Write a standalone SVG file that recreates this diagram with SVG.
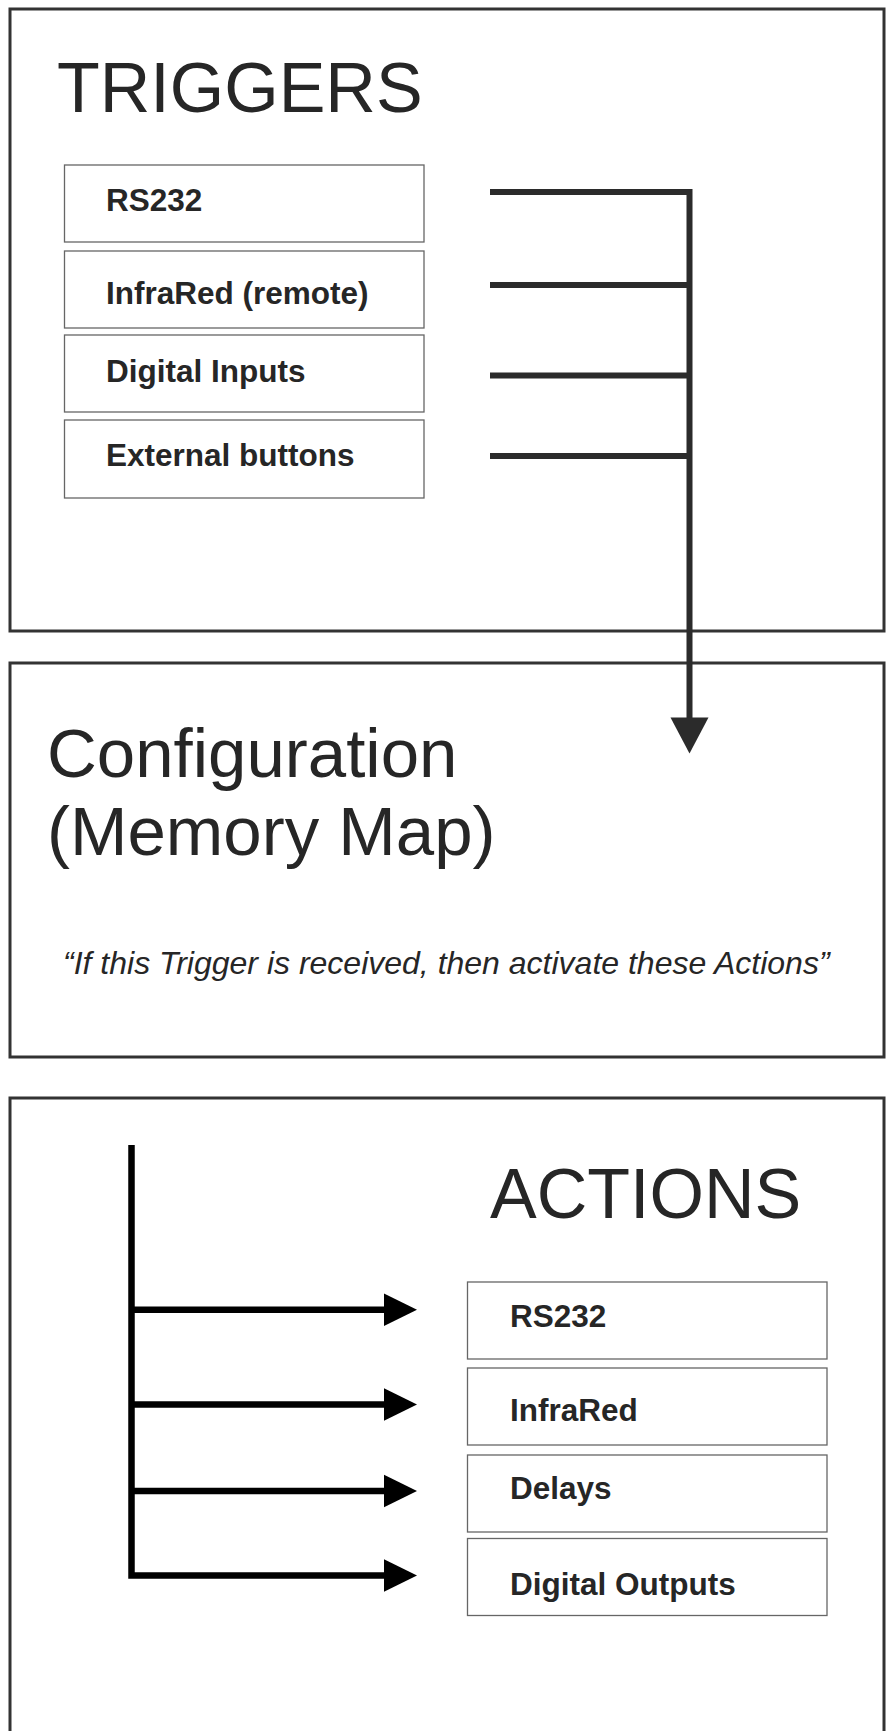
<svg xmlns="http://www.w3.org/2000/svg" width="889" height="1731" viewBox="0 0 889 1731">
<style>
.panel{fill:#fff;stroke:#333;stroke-width:3}
.item{fill:#fff;stroke:#666;stroke-width:1.3}
.title{font-family:"Liberation Sans",Arial,sans-serif;fill:#262626}
.lbl{font-family:"Liberation Sans",Arial,sans-serif;font-weight:bold;font-size:31.5px;fill:#262626}
.quote{font-family:"Liberation Sans",Arial,sans-serif;font-style:italic;font-size:32px;fill:#262626}
.conn{fill:none;stroke:#2b2b2b;stroke-width:6;stroke-linejoin:miter;stroke-linecap:butt}
.conn2{fill:none;stroke:#000;stroke-width:6.5;stroke-linejoin:miter;stroke-linecap:butt}
</style>
<rect width="889" height="1731" fill="#fff"/>
<g id="triggers">
<rect class="panel" x="10" y="9" width="874" height="622"/>
<text class="title" x="57" y="112" font-size="70">TRIGGERS</text>
</g>
<g id="trig-rs232"><rect class="item" x="64.5" y="165" width="359.5" height="77"/><text class="lbl" x="106" y="211">RS232</text></g>
<g id="trig-infrared"><rect class="item" x="64.5" y="251" width="359.5" height="77"/><text class="lbl" x="106" y="304">InfraRed (remote)</text></g>
<g id="trig-digital"><rect class="item" x="64.5" y="335" width="359.5" height="77"/><text class="lbl" x="106" y="382">Digital Inputs</text></g>
<g id="trig-external"><rect class="item" x="64.5" y="420" width="359.5" height="78"/><text class="lbl" x="106" y="466">External buttons</text></g>
<g id="config">
<rect class="panel" x="10" y="663" width="874" height="394"/>
<text class="title" x="47" y="777" font-size="69">Configuration</text>
<text class="title" x="47" y="855" font-size="69">(Memory Map)</text>
<text class="quote" x="63" y="973.5">“If this Trigger is received, then activate these Actions”</text>
</g>
<g id="actions">
<rect class="panel" x="10" y="1098" width="874" height="660"/>
<text class="title" x="490" y="1218" font-size="70">ACTIONS</text>
</g>
<g id="act-rs232"><rect class="item" x="467.5" y="1282" width="359.5" height="77"/><text class="lbl" x="510" y="1327">RS232</text></g>
<g id="act-infrared"><rect class="item" x="467.5" y="1368" width="359.5" height="77"/><text class="lbl" x="510" y="1421">InfraRed</text></g>
<g id="act-delays"><rect class="item" x="467.5" y="1455" width="359.5" height="77"/><text class="lbl" x="510" y="1499">Delays</text></g>
<g id="act-digital"><rect class="item" x="467.5" y="1538.5" width="359.5" height="77"/><text class="lbl" x="510" y="1595">Digital Outputs</text></g>
<g id="connectors">
<path class="conn" d="M490,192 H689.5 V720"/>
<path class="conn" d="M490,285 H689.5 M490,375.5 H689.5 M490,456 H689.5"/>
<polygon points="670.5,717.5 708.5,717.5 689.5,753.5" fill="#2b2b2b"/>
<path class="conn2" d="M131.5,1145 V1575.5 H386"/>
<path class="conn2" d="M131.5,1309.7 H386 M131.5,1404.5 H386 M131.5,1491 H386"/>
<polygon points="384,1293.5 417,1309.7 384,1326" fill="#000"/>
<polygon points="384,1388.3 417,1404.5 384,1420.8" fill="#000"/>
<polygon points="384,1474.8 417,1491 384,1507.3" fill="#000"/>
<polygon points="384,1559.3 417,1575.5 384,1591.8" fill="#000"/>
</g>
</svg>
